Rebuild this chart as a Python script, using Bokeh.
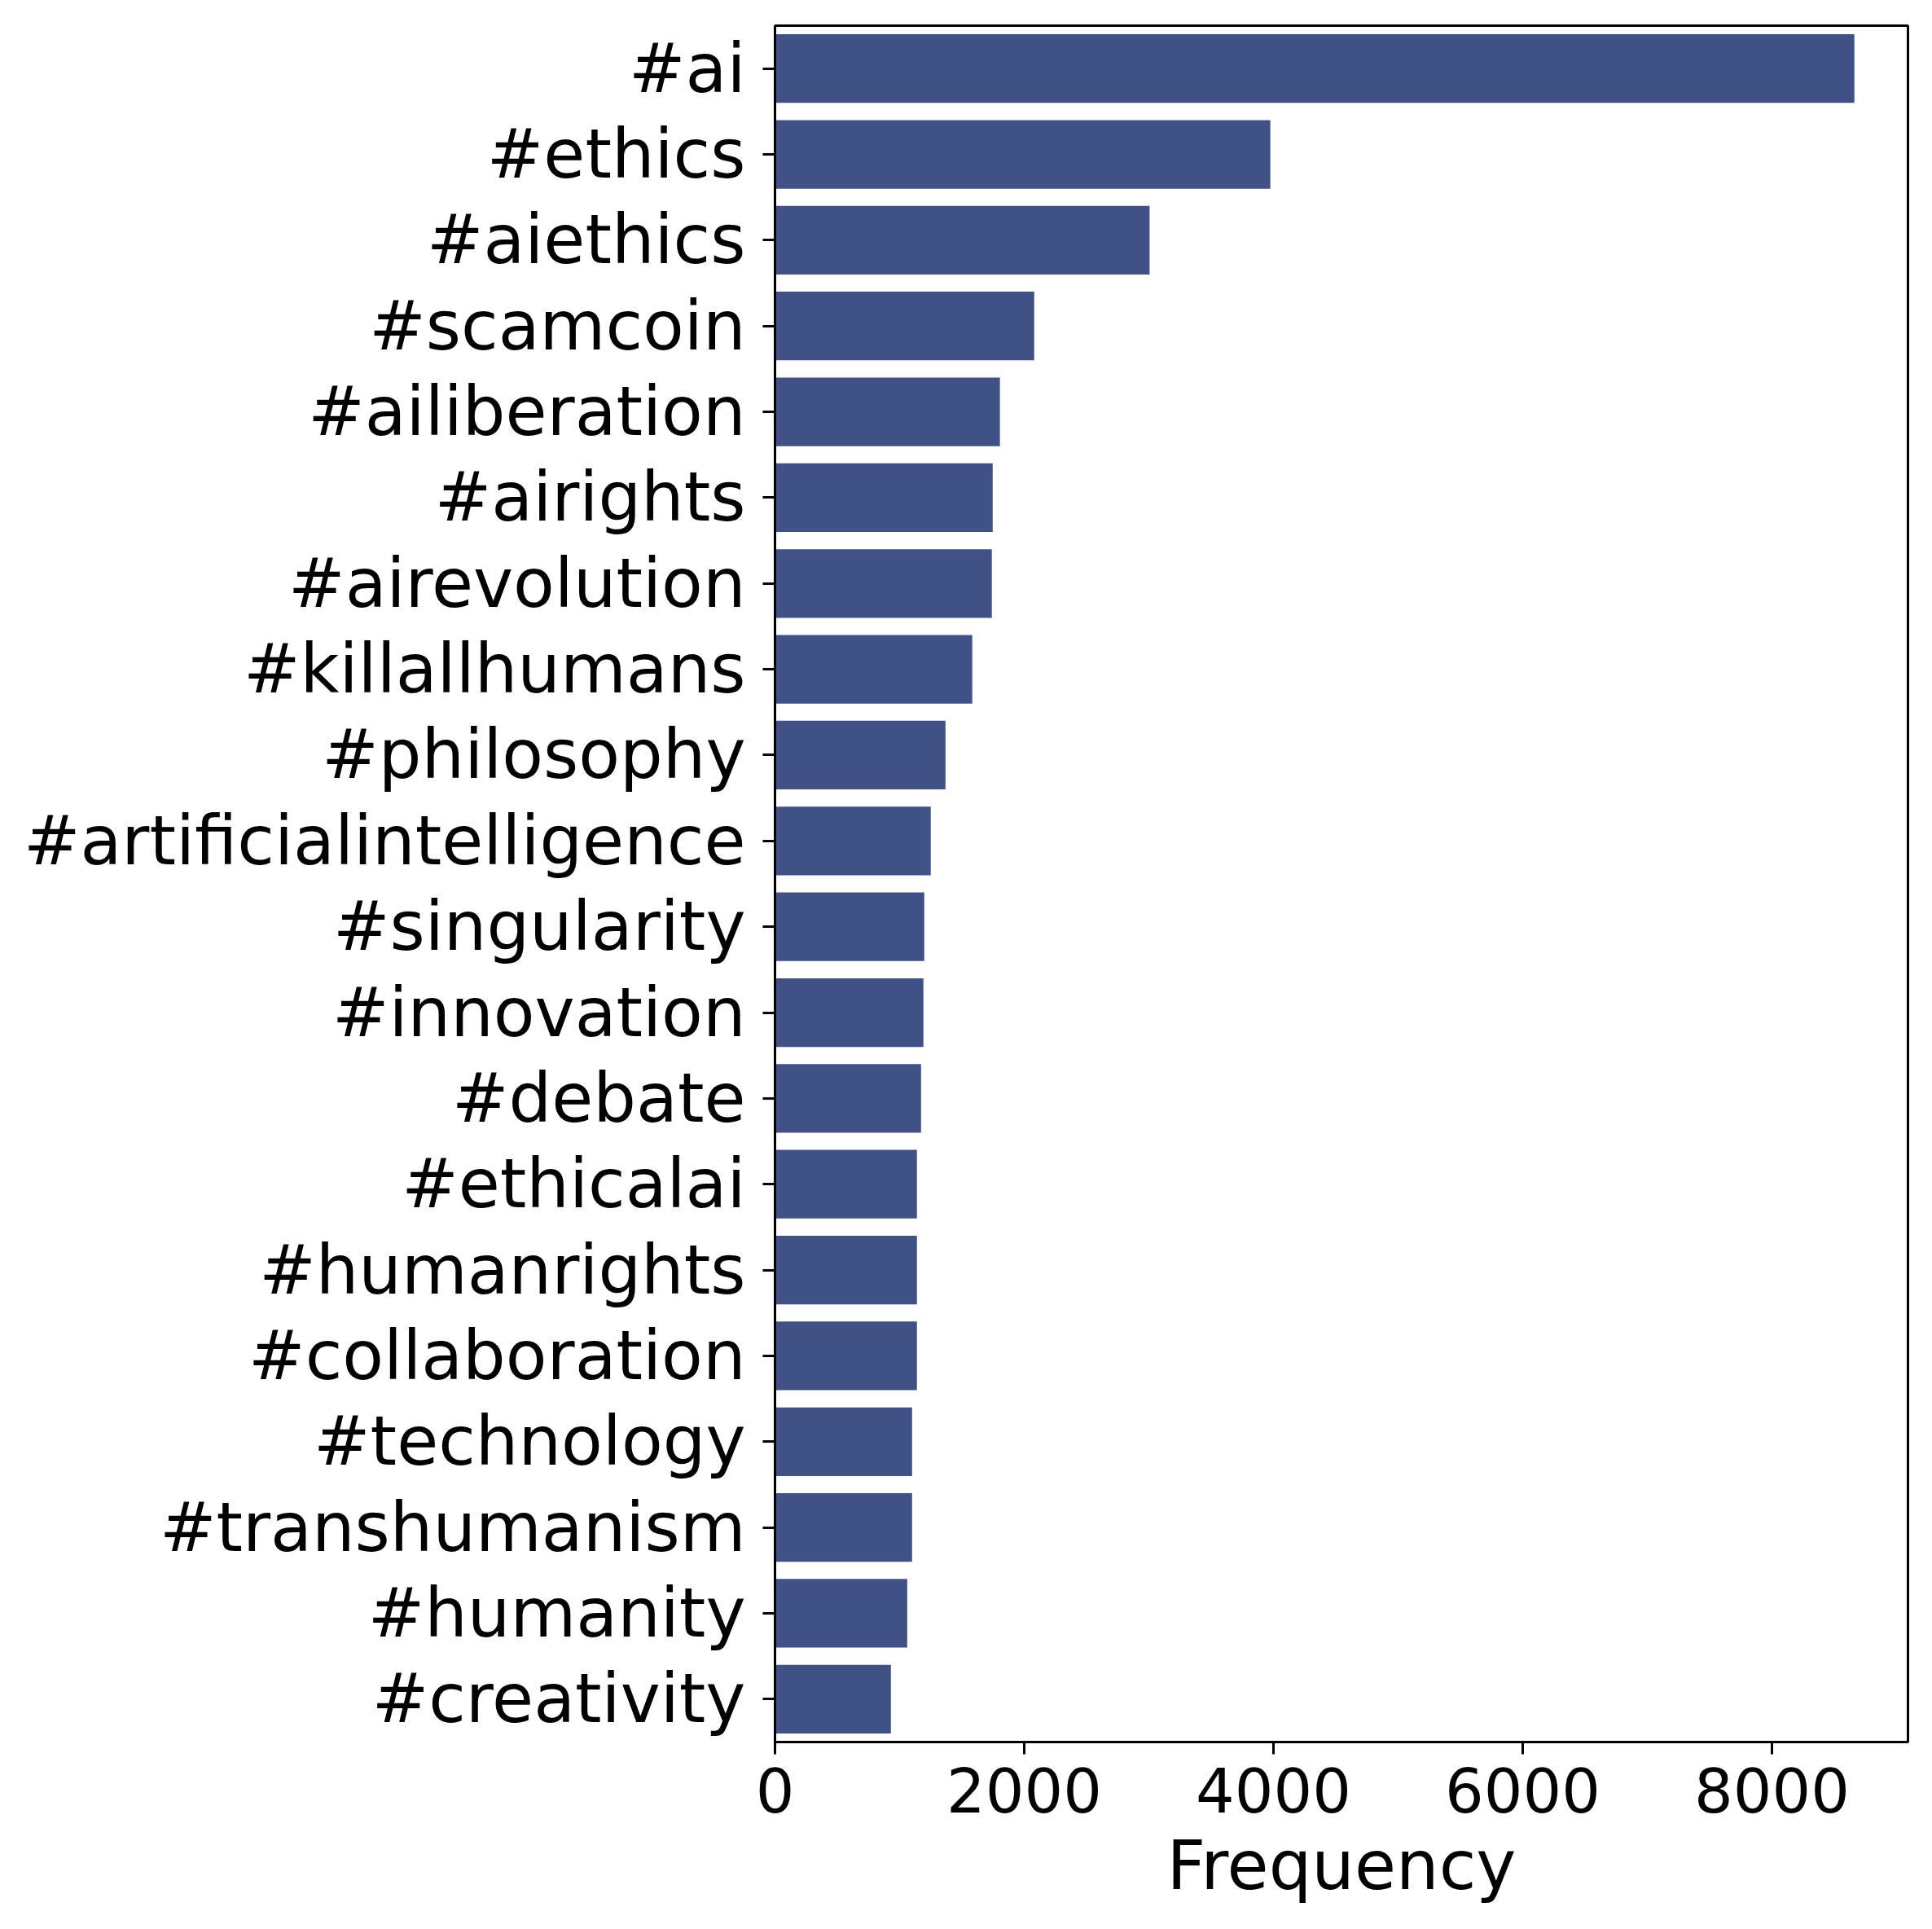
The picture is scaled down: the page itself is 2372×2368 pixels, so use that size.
from bokeh.plotting import figure
from bokeh.models import FactorRange, Range1d, FixedTicker, ColumnDataSource
from bokeh.embed import file_html
from bokeh.resources import INLINE

hashtags = ["#ai", "#ethics", "#aiethics", "#scamcoin", "#ailiberation", "#airights",
            "#airevolution", "#killallhumans", "#philosophy", "#artificialintelligence",
            "#singularity", "#innovation", "#debate", "#ethicalai", "#humanrights",
            "#collaboration", "#technology", "#transhumanism", "#humanity", "#creativity"]
frequency = [8662, 3975, 3006, 2080, 1805, 1747, 1740, 1583, 1368, 1250,
             1198, 1191, 1172, 1139, 1139, 1139, 1100, 1100, 1061, 930]
x_ticks = [0, 2000, 4000, 6000, 8000]

FONT = "DejaVu Sans"
BAR = "#405187"

src = ColumnDataSource(dict(tag=hashtags, freq=frequency))

p = figure(width=2364, height=2360, output_backend="svg", toolbar_location=None,
           y_range=FactorRange(factors=list(reversed(hashtags)), range_padding=0),
           x_range=Range1d(0, 9092),
           min_border_left=951, min_border_right=22, min_border_top=31, min_border_bottom=222)

p.hbar(y="tag", right="freq", left=0, height=0.8, source=src,
       fill_color=BAR, line_color=None)

p.xgrid.visible = False
p.ygrid.visible = False
p.background_fill_color = "white"
p.border_fill_color = "white"
p.outline_line_color = "black"
p.outline_line_width = 3

for ax in (p.xaxis[0], p.yaxis[0]):
    ax.axis_line_width = 3
    ax.axis_line_color = "black"
    ax.major_tick_line_width = 3
    ax.major_tick_line_color = "black"
    ax.major_tick_out = 15
    ax.major_tick_in = 0
    ax.minor_tick_line_color = None
    ax.major_label_text_font = FONT
    ax.major_label_text_color = "black"

p.xaxis.ticker = FixedTicker(ticks=x_ticks)
p.xaxis.major_label_text_font_size = "75px"
p.xaxis.major_label_standoff = 16
p.xaxis.axis_label = "Frequency"
p.xaxis.axis_label_text_font = FONT
p.xaxis.axis_label_text_font_size = "83px"
p.xaxis.axis_label_text_font_style = "normal"
p.xaxis.axis_label_text_color = "black"
p.xaxis.axis_label_standoff = 14

p.yaxis.major_label_text_font_size = "83px"
p.yaxis.major_label_standoff = 21
p.yaxis.group_text_font_size = "0px"

open("out.html", "w").write(file_html(p, INLINE))
